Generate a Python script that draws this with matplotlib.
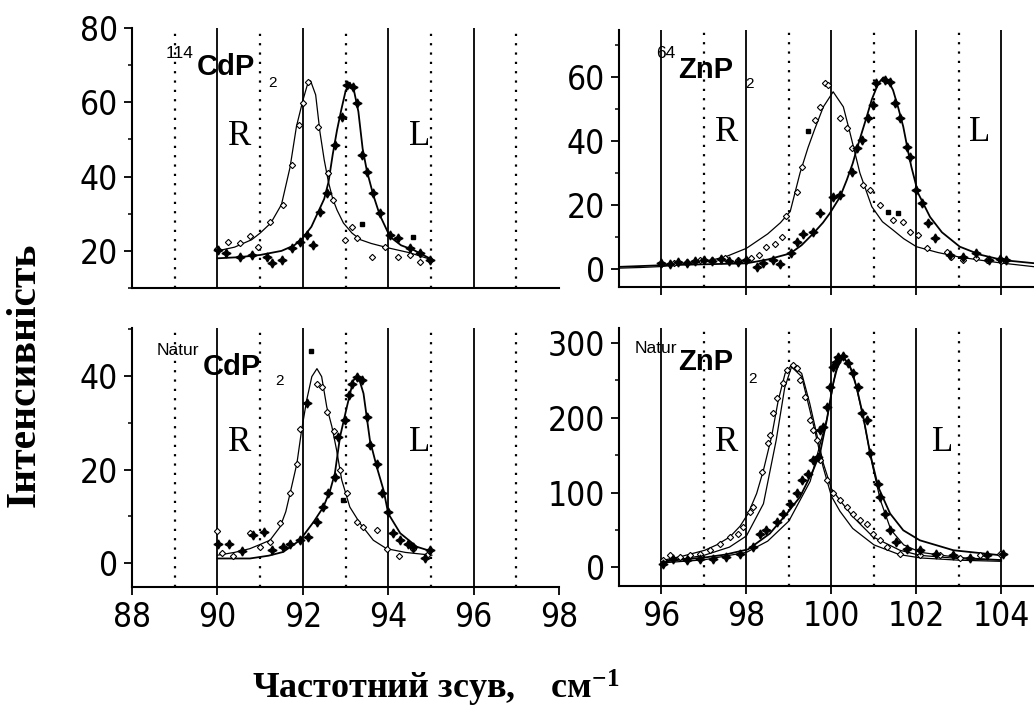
import matplotlib
matplotlib.use("Agg")
import matplotlib.pyplot as plt
from matplotlib.ticker import MultipleLocator

# ---- 114CdP2 (top left) ----
cd114_fitR_x = [90.0, 90.4, 90.8, 91.0, 91.25, 91.5, 91.7, 91.85, 92.0, 92.1, 92.18, 92.3, 92.4, 92.5,
                92.6, 92.7, 92.8, 92.95, 93.15, 93.35, 93.6, 94.0, 94.5, 95.05]
cd114_fitR_y = [20.0, 21.0, 23.0, 24.8, 27.5, 32.5, 42.5, 53.5, 60.5, 64.5, 65.8, 62.0, 52.0, 44.5,
                38.5, 34.0, 31.0, 27.5, 24.8, 23.0, 22.0, 20.8, 19.5, 17.5]
cd114_fitL_x = [90.0, 90.5, 91.0, 91.5, 91.8, 92.0, 92.2, 92.36, 92.5, 92.6, 92.7, 92.8, 92.9, 93.0,
                93.1, 93.2, 93.3, 93.4, 93.5, 93.65, 93.8, 94.04, 94.3, 94.6, 95.05]
cd114_fitL_y = [18.0, 18.3, 18.9, 20.0, 21.5, 23.5, 26.5, 30.5, 34.0, 38.5, 46.0, 52.5, 58.0, 63.0,
                65.3, 63.0, 57.5, 47.5, 41.5, 35.0, 29.7, 23.8, 21.5, 20.2, 17.5]
cd114_R_x = [90.0, 90.25, 90.53, 90.76, 90.96, 91.23, 91.53, 91.74, 91.91, 92.0, 92.12, 92.36, 92.6,
             92.71, 92.99, 93.14, 93.27, 93.62, 93.93, 94.23, 94.5, 94.74, 94.98]
cd114_R_y = [20.5, 22.5, 22.1, 24.0, 21.1, 27.9, 32.3, 43.0, 53.9, 59.8, 65.5, 53.4, 41.0, 33.7, 22.9,
             26.5, 23.5, 18.4, 21.0, 18.4, 19.0, 17.0, 17.5]
cd114_L_x = [90.02, 90.2, 90.53, 90.8, 91.15, 91.27, 91.5, 91.75, 91.93, 92.1, 92.24, 92.4, 92.56,
             92.75, 92.91, 93.03, 93.18, 93.27, 93.39, 93.5, 93.65, 93.81, 94.04, 94.23, 94.51, 94.74, 94.98]
cd114_L_y = [20.2, 19.5, 18.4, 19.0, 18.4, 16.7, 17.5, 20.8, 22.4, 24.3, 21.6, 30.5, 35.5, 48.5, 56.0,
             64.7, 64.0, 59.8, 45.8, 41.3, 35.5, 30.2, 24.3, 23.5, 20.8, 19.4, 17.5]
cd114_sq_x = [93.38, 94.58]
cd114_sq_y = [27.2, 23.8]

# ---- 64ZnP2 (top right) ----
zn64_fitR_x = [95.0, 95.5, 96.0, 96.5, 97.0, 97.5, 98.0, 98.5, 98.8, 99.03, 99.26, 99.45, 99.6, 99.81,
               100.04, 100.28, 100.44, 100.67, 100.95, 101.2, 101.45, 101.7, 102.0, 102.5, 103.0, 103.5,
               104.0, 104.8]
zn64_fitR_y = [0.3, 0.5, 0.8, 1.5, 2.3, 3.8, 6.5, 11.0, 14.5, 18.0, 30.0, 38.0, 43.5, 50.7, 55.4, 50.7,
               42.4, 30.0, 19.5, 14.8, 12.2, 9.5, 7.0, 5.2, 3.8, 2.8, 1.9, 0.7]
zn64_fitL_x = [95.0, 96.0, 97.0, 98.0, 98.5, 99.03, 99.3, 99.57, 99.8, 99.96, 100.2, 100.36, 100.5,
               100.59, 100.7, 100.83, 100.95, 101.1, 101.22, 101.35, 101.45, 101.57, 101.69, 101.8,
               101.88, 102.04, 102.32, 102.6, 103.02, 103.5, 104.04, 104.8]
zn64_fitL_y = [0.7, 1.2, 1.5, 1.8, 3.0, 4.9, 7.5, 11.1, 14.5, 17.4, 22.5, 27.8, 33.0, 37.2, 42.0, 47.6,
               53.0, 58.0, 59.9, 58.5, 55.9, 50.5, 44.5, 37.0, 32.0, 23.7, 16.3, 11.5, 7.0, 4.5, 2.8, 1.8]
zn64_R_x = [96.0, 96.3, 96.6, 96.9, 97.2, 97.5, 97.8, 98.1, 98.3, 98.47, 98.67, 98.83, 98.94, 99.18,
            99.3, 99.61, 99.73, 99.85, 99.92, 100.2, 100.36, 100.48, 100.75, 100.91, 101.14, 101.45,
            101.69, 101.85, 102.04, 102.24, 102.71, 102.82, 103.1, 103.4, 103.65, 104.0]
zn64_R_y = [1.5, 2.0, 2.2, 2.8, 3.0, 3.5, 2.8, 3.5, 4.5, 7.0, 7.8, 10.1, 16.6, 24.2, 32.0, 46.6, 50.7,
            58.2, 57.5, 47.1, 44.0, 37.7, 26.2, 24.7, 20.0, 15.3, 14.8, 11.7, 10.6, 6.5, 5.4, 3.8, 2.8,
            3.5, 2.8, 2.5]
zn64_L_x = [96.0, 96.2, 96.4, 96.6, 96.8, 97.0, 97.2, 97.4, 97.6, 97.8, 98.0, 98.24, 98.4, 98.63, 98.8,
            99.06, 99.18, 99.33, 99.57, 99.73, 100.04, 100.2, 100.48, 100.59, 100.71, 100.87, 100.98,
            101.06, 101.26, 101.38, 101.5, 101.61, 101.77, 101.85, 102.0, 102.12, 102.28, 102.44, 102.8,
            103.1, 103.41, 103.7, 103.96, 104.1]
zn64_L_y = [1.8, 1.5, 2.2, 1.8, 2.5, 3.0, 2.5, 3.2, 2.5, 2.2, 2.8, 0.7, 2.0, 2.8, 1.5, 5.0, 8.5, 11.1,
            11.7, 17.4, 22.6, 23.1, 30.4, 37.7, 40.3, 47.1, 51.3, 58.0, 59.0, 58.5, 51.8, 47.1, 38.2,
            35.1, 24.7, 20.5, 14.3, 9.6, 4.5, 3.8, 4.9, 3.0, 3.3, 3.0]
zn64_sq_x = [99.45, 101.33, 101.57]
zn64_sq_y = [43.1, 17.9, 17.4]

# ---- Natur CdP2 (bottom left) ----
cdnat_fitR_x = [90.0, 90.4, 90.76, 91.0, 91.23, 91.47, 91.6, 91.7, 91.86, 91.97, 92.09, 92.21, 92.33,
                92.44, 92.56, 92.68, 92.79, 92.91, 93.1, 93.34, 93.65, 93.96, 94.4, 95.02]
cdnat_fitR_y = [1.7, 2.3, 3.1, 4.0, 4.9, 7.8, 11.0, 14.9, 21.3, 28.4, 34.9, 39.9, 41.6, 39.9, 33.4,
                29.2, 24.2, 17.8, 12.0, 8.5, 4.9, 3.1, 2.3, 1.7]
cdnat_fitL_x = [90.0, 90.76, 91.2, 91.54, 91.93, 92.25, 92.48, 92.64, 92.75, 92.87, 93.03, 93.18, 93.3,
                93.42, 93.57, 93.73, 93.89, 94.0, 94.28, 94.67, 95.02]
cdnat_fitL_y = [1.0, 1.0, 1.6, 2.4, 4.9, 8.8, 12.0, 15.6, 19.2, 27.0, 33.4, 39.1, 39.9, 36.3, 26.3, 20.6,
                15.6, 10.6, 6.4, 3.5, 2.5]
cdnat_R_x = [89.98, 90.1, 90.37, 90.76, 91.0, 91.23, 91.47, 91.7, 91.86, 91.93, 92.33, 92.44, 92.56,
             92.72, 92.87, 93.03, 93.26, 93.42, 93.73, 93.96, 94.24, 94.59, 94.9]
cdnat_R_y = [6.9, 2.1, 1.5, 6.4, 3.5, 4.6, 8.5, 14.9, 21.3, 28.6, 38.4, 37.7, 32.4, 28.3, 19.9, 14.9,
             8.8, 7.8, 7.1, 3.1, 1.5, 3.1, 1.7]
cdnat_L_x = [90.02, 90.26, 90.57, 90.84, 91.08, 91.27, 91.54, 91.7, 91.93, 92.09, 92.13, 92.33, 92.48,
             92.6, 92.75, 92.83, 92.99, 93.07, 93.14, 93.26, 93.38, 93.5, 93.57, 93.73, 93.85, 94.0,
             94.12, 94.28, 94.47, 94.59, 94.86, 94.98]
cdnat_L_y = [4.1, 4.2, 2.6, 6.0, 6.7, 2.8, 3.5, 4.2, 4.9, 34.2, 5.6, 8.8, 12.0, 14.9, 18.5, 27.0, 30.6,
             35.9, 38.4, 39.9, 39.1, 31.3, 25.2, 21.3, 14.9, 11.0, 6.4, 4.9, 4.2, 3.5, 1.0, 2.8]
cdnat_sq_x = [92.2, 92.95]
cdnat_sq_y = [45.3, 13.5]

# ---- Natur ZnP2 (bottom right) ----
znnat_fitR_x = [96.04, 96.5, 97.02, 97.3, 97.61, 97.85, 98.04, 98.24, 98.4, 98.59, 98.75, 98.91, 99.06,
                99.3, 99.49, 99.65, 99.81, 100.0, 100.2, 100.51, 100.98, 101.61, 102.08, 103.02, 104.0]
znnat_fitR_y = [9.4, 15.0, 22.8, 30.0, 40.6, 55.0, 71.9, 98.7, 129.9, 174.4, 223.6, 259.3, 270.4,
                259.3, 219.1, 179.0, 138.8, 105.0, 89.7, 67.3, 40.6, 22.8, 16.0, 11.6, 9.4]
znnat_fitR2_x = [96.04, 97.0, 97.6, 98.0, 98.4, 98.7, 98.9, 99.06, 99.3, 99.6, 99.8, 100.0, 100.2,
                 100.5, 101.0, 101.6, 102.1, 103.0, 104.0]
znnat_fitR2_y = [7.0, 16.0, 27.0, 42.0, 85.0, 170.0, 240.0, 268.0, 255.0, 185.0, 135.0, 95.0, 75.0,
                 52.0, 30.0, 17.0, 12.5, 9.5, 8.0]
znnat_fitL_x = [96.04, 97.0, 97.5, 98.04, 98.55, 98.95, 99.26, 99.57, 99.73, 99.89, 100.04, 100.16,
                100.28, 100.44, 100.59, 100.75, 100.91, 101.1, 101.38, 101.69, 102.08, 102.87, 104.0]
znnat_fitL_y = [8.0, 13.0, 17.0, 24.0, 45.1, 71.9, 94.1, 129.9, 152.2, 196.8, 245.9, 272.0, 281.5,
                268.1, 241.4, 201.2, 152.2, 107.5, 71.9, 49.5, 36.1, 22.8, 16.0]
znnat_fitL2_x = [96.04, 97.0, 98.0, 98.5, 99.0, 99.5, 99.9, 100.1, 100.28, 100.5, 100.75, 100.95,
                 101.15, 101.4, 101.7, 102.1, 103.0, 104.0]
znnat_fitL2_y = [6.0, 10.0, 20.0, 35.0, 62.0, 115.0, 200.0, 262.0, 281.0, 262.0, 200.0, 140.0, 90.0,
                 50.0, 30.0, 20.0, 13.0, 10.0]
znnat_R_x = [96.04, 96.2, 96.44, 96.67, 96.91, 97.14, 97.38, 97.61, 97.8, 97.92, 98.08, 98.16, 98.36,
             98.51, 98.55, 98.63, 98.71, 98.87, 98.95, 99.1, 99.18, 99.26, 99.38, 99.49, 99.57, 99.65,
             99.73, 99.89, 100.04, 100.2, 100.36, 100.51, 100.67, 100.83, 100.98, 101.14, 101.3, 101.61,
             102.08, 102.55, 103.02, 103.49, 103.96]
znnat_R_y = [9.4, 16.0, 13.8, 16.0, 18.3, 22.8, 31.7, 40.6, 45.1, 53.9, 74.0, 80.7, 127.6, 165.6, 176.7,
             205.8, 225.8, 245.9, 263.7, 270.4, 267.0, 250.3, 228.0, 196.8, 183.4, 170.0, 143.2, 116.5,
             100.0, 89.7, 80.7, 71.9, 62.9, 58.5, 45.1, 36.1, 27.2, 18.3, 16.0, 16.0, 13.0, 16.0, 18.3]
znnat_L_x = [96.04, 96.28, 96.59, 96.91, 97.22, 97.53, 97.85, 98.16, 98.32, 98.47, 98.71, 98.87, 99.02,
             99.18, 99.3, 99.45, 99.57, 99.69, 99.73, 99.81, 99.89, 99.96, 100.04, 100.1, 100.16, 100.28,
             100.4, 100.51, 100.63, 100.71, 100.83, 100.91, 101.1, 101.14, 101.26, 101.38, 101.53,
             101.77, 102.08, 102.47, 102.87, 103.26, 103.65, 104.04]
znnat_L_y = [5.0, 11.6, 9.4, 11.6, 11.6, 13.8, 18.3, 27.2, 45.1, 49.5, 60.6, 71.9, 85.3, 98.7, 116.5,
             125.4, 143.2, 147.7, 183.4, 187.8, 214.6, 241.4, 268.1, 274.8, 281.5, 282.5, 272.7, 259.3,
             241.4, 205.8, 196.8, 152.2, 112.0, 94.1, 71.9, 49.5, 33.9, 25.0, 22.8, 18.3, 16.0, 13.0,
             16.0, 18.3]

tick_font = ["DejaVu Sans", "Liberation Sans"]
serif = "Liberation Serif"
sans = "Liberation Sans"

fig = plt.figure(figsize=(10.34, 7.11), dpi=100)

ax1 = fig.add_axes([0.1277, 0.5949, 0.4130, 0.3657])
ax2 = fig.add_axes([0.5986, 0.5963, 0.4110, 0.3615])
ax3 = fig.add_axes([0.1277, 0.1744, 0.4130, 0.3643])
ax4 = fig.add_axes([0.5986, 0.1758, 0.4110, 0.3629])


def set_tick_font(ax):
    for lab in ax.get_xticklabels() + ax.get_yticklabels():
        lab.set_family(tick_font)
        lab.set_stretch("condensed")
        lab.set_weight("light")


def style(ax, xlim, ylim, solid, dotted, ymaj, ymin):
    ax.set_xlim(*xlim)
    ax.set_ylim(*ylim)
    for v in solid:
        ax.axvline(v, color="black", lw=1.3, zorder=1)
    for v in dotted:
        ax.axvline(v, color="black", lw=1.6, ls=(0, (1, 3.2)), zorder=1)
    ax.spines["top"].set_visible(False)
    ax.spines["right"].set_visible(False)
    ax.spines["left"].set_linewidth(1.5)
    ax.spines["bottom"].set_linewidth(1.5)
    ax.yaxis.set_major_locator(MultipleLocator(ymaj))
    ax.yaxis.set_minor_locator(MultipleLocator(ymin))
    ax.tick_params(axis="both", which="major", length=6, width=1.3, pad=4,
                   labelsize=24, direction="out")
    ax.tick_params(axis="y", which="minor", length=3, width=1.1, direction="out")
    set_tick_font(ax)


def draw(ax, fits, thick_fits, rx, ry, lx, ly, sqx=None, sqy=None):
    for fx, fy in fits:
        ax.plot(fx, fy, color="black", lw=0.9, zorder=3)
    for fx, fy in thick_fits:
        ax.plot(fx, fy, color="black", lw=1.3, zorder=3)
    ax.plot(rx, ry, ls="none", marker="D", ms=3.2, mfc="white", mec="black", mew=0.8, zorder=4)
    ax.plot(lx, ly, ls="none", marker=(4, 1, 0), ms=6.5, color="black", zorder=4)
    if sqx is not None:
        ax.plot(sqx, sqy, ls="none", marker="s", ms=3.5, color="black", zorder=4)


def label(ax, sup, main, sub, main_xy, sup_xy, sub_xy, r_xy, l_xy):
    ax.text(*main_xy, main, transform=ax.transAxes, family=sans, weight="bold",
            fontsize=21, va="baseline", ha="left", zorder=5)
    ax.text(*sup_xy, sup, transform=ax.transAxes, family=sans,
            fontsize=12.5, va="baseline", ha="right", zorder=5)
    ax.text(*sub_xy, sub, transform=ax.transAxes, family=sans,
            fontsize=11, va="baseline", ha="left", zorder=5)
    ax.text(*r_xy, "R", transform=ax.transAxes, family=serif, fontsize=25,
            ha="center", va="center", zorder=5)
    ax.text(*l_xy, "L", transform=ax.transAxes, family=serif, fontsize=25,
            ha="center", va="center", zorder=5)


# top left
draw(ax1, [(cd114_fitR_x, cd114_fitR_y)], [(cd114_fitL_x, cd114_fitL_y)],
     cd114_R_x, cd114_R_y, cd114_L_x, cd114_L_y, cd114_sq_x, cd114_sq_y)
ax1.set_xticks([])
style(ax1, (88, 98), (10, 80), [90, 92, 94, 96], [89, 91, 93, 95, 97], 20, 10)
label(ax1, "114", "CdP", "2", (0.152, 0.819), (0.143, 0.885), (0.318, 0.773),
      (0.253, 0.581), (0.674, 0.581))

# top right
draw(ax2, [(zn64_fitR_x, zn64_fitR_y)], [(zn64_fitL_x, zn64_fitL_y)],
     zn64_R_x, zn64_R_y, zn64_L_x, zn64_L_y, zn64_sq_x, zn64_sq_y)
ax2.set_xticks([96, 98, 100, 102, 104])
ax2.set_xticklabels([])
style(ax2, (95, 105), (-5.6, 74.7), [96, 98, 100, 102, 104], [97, 99, 101, 103], 20, 10)
label(ax2, "64", "ZnP", "2", (0.139, 0.813), (0.132, 0.891), (0.298, 0.774),
      (0.254, 0.603), (0.849, 0.603))

# bottom left
draw(ax3, [(cdnat_fitR_x, cdnat_fitR_y)], [(cdnat_fitL_x, cdnat_fitL_y)],
     cdnat_R_x, cdnat_R_y, cdnat_L_x, cdnat_L_y, cdnat_sq_x, cdnat_sq_y)
ax3.set_xticks([88, 90, 92, 94, 96, 98])
style(ax3, (88, 98), (-5.1, 50.3), [90, 92, 94, 96], [89, 91, 93, 95, 97], 20, 10)
label(ax3, "Natur", "CdP", "2", (0.166, 0.819), (0.157, 0.896), (0.335, 0.780),
      (0.253, 0.556), (0.674, 0.556))

# bottom right
draw(ax4, [(znnat_fitR_x, znnat_fitR_y), (znnat_fitR2_x, znnat_fitR2_y),
           (znnat_fitL2_x, znnat_fitL2_y)], [(znnat_fitL_x, znnat_fitL_y)],
     znnat_R_x, znnat_R_y, znnat_L_x, znnat_L_y)
ax4.set_xticks([96, 98, 100, 102, 104])
style(ax4, (95, 105), (-25, 320), [96, 98, 100, 102, 104], [97, 99, 101, 103], 100, 50)
label(ax4, "Natur", "ZnP", "2", (0.139, 0.837), (0.136, 0.903), (0.304, 0.787),
      (0.254, 0.558), (0.762, 0.558))

fig.text(0.024, 0.473, "Інтенсивність", rotation=90, family=serif, weight="bold",
         fontsize=30, ha="center", va="center")
fig.text(0.244, 0.017, "Частотний зсув,    см$\\mathregular{^{-1}}$", family=serif,
         weight="bold", fontsize=26, ha="left", va="baseline")

fig.savefig("out.png", dpi=100)
